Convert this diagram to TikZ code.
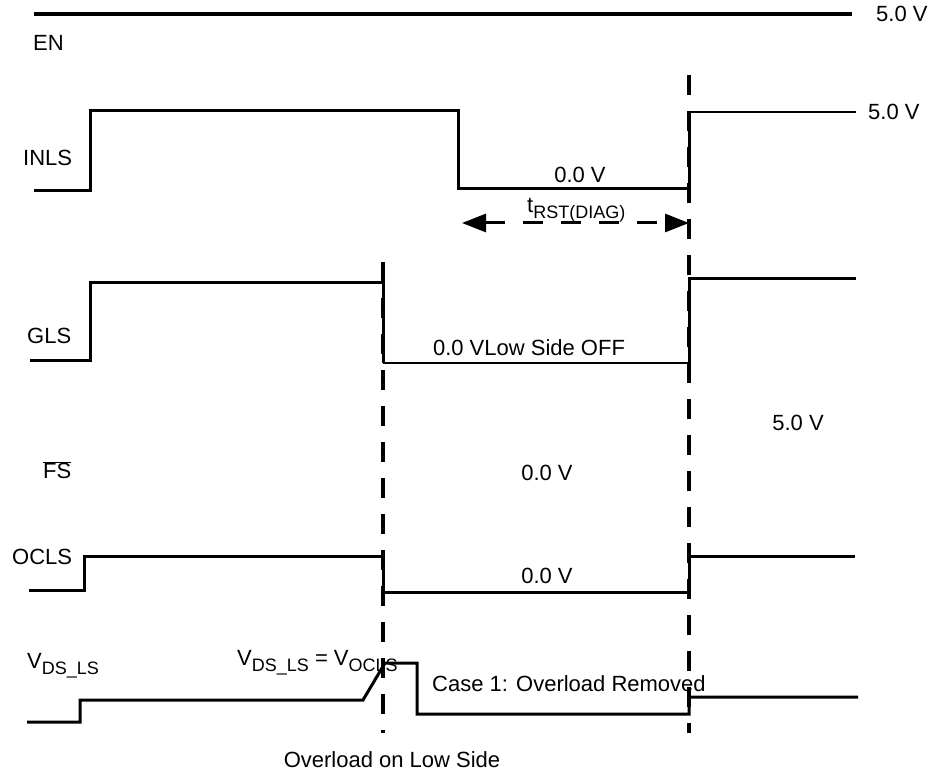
\documentclass[tikz,border=0pt]{standalone}
\usepackage{fontspec}
\setmainfont{Liberation Sans}
\usetikzlibrary{arrows.meta}

\newcommand{\lsub}[1]{\raisebox{-6pt}{\fontsize{18}{18}\selectfont #1}}

\begin{document}
\begin{tikzpicture}[x=1pt, y=-1pt,
    wave/.style={line width=3pt},
    thinwave/.style={line width=2pt},
    marker/.style={line width=3.5pt, dash pattern=on 20pt off 16pt},
    span/.style={line width=3pt, dash pattern=on 20pt off 18pt,
      {Triangle[length=24pt,width=18pt]}-{Triangle[length=24pt,width=18pt]}},
    lbl/.style={inner sep=0pt, font=\fontsize{22}{26}\selectfont}]
  \useasboundingbox (0,0) rectangle (931,775);

  % event instants
  \coordinate (ovl) at (383,0);
  \coordinate (rst) at (689,0);

  % markers
  \draw[marker] (ovl |- 0,262) -- (ovl |- 0,733);
  \draw[marker] (rst |- 0,75) -- (rst |- 0,733);

  % EN
  \draw[line width=4pt] (34,14) -- (852,14);
  \node[lbl, anchor=west] (en) at (33,43) {EN};
  \node[lbl, anchor=west] (enhi) at (876,14) {5.0 V};

  % INLS
  \draw[wave] (34,191) -| (90,111) -| (458,189) -| (rst |- 0,112);
  \draw[thinwave] (rst |- 0,112) -- (856,112);
  \node[lbl, anchor=west] (inls) at (23,158) {INLS};
  \node[lbl, anchor=west] (inlshi) at (868,112) {5.0 V};
  \node[lbl] (inlslo) at (580,175) {0.0 V};

  % reset time
  \coordinate (spana) at (462,223);
  \coordinate (spanb) at (rst |- 0,223);
  \draw[span] (spana) -- (spanb);
  \node[lbl, anchor=base west] (trst) at (527,213) {t\lsub{RST(DIAG)}};

  % GLS
  \draw[wave] (30,360) -| (90,283) -| (ovl |- 0,363);
  \draw[thinwave] (ovl |- 0,363) -- (rst |- 0,363);
  \draw[wave] (rst |- 0,363) |- (856,279);
  \node[lbl, anchor=west] (gls) at (27,336) {GLS};
  \node[lbl] (glslo) at (529,348) {0.0 VLow Side OFF};

  % FS
  \node[lbl, anchor=west] (fs) at (43,470) {$\overline{\mbox{FS}}$};
  \node[lbl] (fshi) at (798,423) {5.0 V};
  \node[lbl] (fslo) at (547,473) {0.0 V};

  % OCLS
  \draw[wave] (29,590) -| (84,556) -| (ovl |- 0,592) -| (rst |- 0,556) -- (855,556);
  \node[lbl, anchor=west] (ocls) at (12,557) {OCLS};
  \node[lbl] (oclslo) at (547,576) {0.0 V};

  % VDS_LS
  \draw[wave] (27,722) -| (80,700) -- (363,700) -- (385,663) -| (417,714)
    -| (rst |- 0,697) -- (858,697);
  \node[lbl, anchor=base west] (vds) at (27,668) {V\lsub{DS\_LS}};
  \node[lbl, anchor=base west] (vdseq) at (237,665) {V\lsub{DS\_LS} = V\lsub{OCLS}};
  \node[lbl, anchor=west] (case) at (432,684) {Case 1: Overload Removed};
  \node[lbl] (overload) at (392,760) {Overload on Low Side};
\end{tikzpicture}
\end{document}
